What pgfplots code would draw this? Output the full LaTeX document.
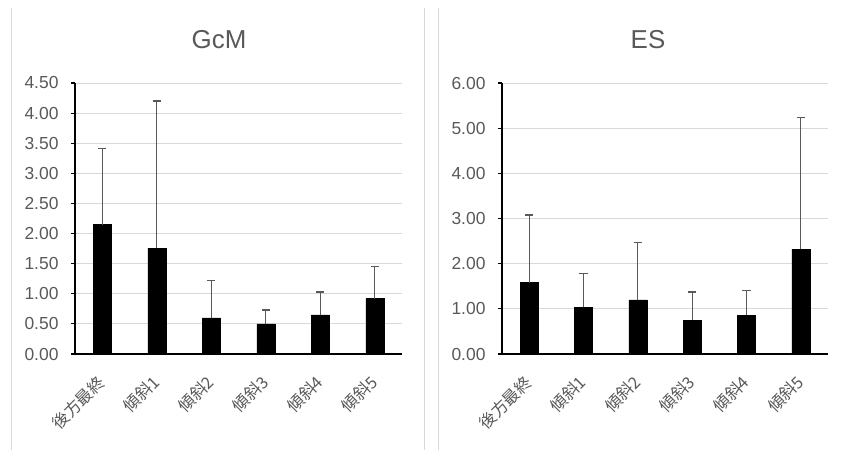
\documentclass[border=0pt]{standalone}
\usepackage{fontspec}
\setmainfont{Liberation Sans}
\newfontfamily\cjk{Noto Sans CJK JP}
\usepackage{pgfplots}
\pgfplotsset{compat=1.18}
\definecolor{txt}{HTML}{595959}
\definecolor{grd}{HTML}{D9D9D9}
\definecolor{errc}{HTML}{595959}
\pgfplotsset{mybar/.style={
  scale only axis, height=271bp,
  xmin=-0.5, xmax=5.5, ymin=0,
  axis x line*=bottom, axis y line*=left,
  xtick={0,...,5},
  xticklabels={後方最終,傾斜1,傾斜2,傾斜3,傾斜4,傾斜5},
  xtick style={draw=none},
  ymajorgrids, grid style={grd, line width=0.9bp},
  axis line style={black, line width=1.1bp},
  ytick style={black, line width=1.1bp}, tick align=outside, major tick length=4bp,
  yticklabel style={/pgf/number format/fixed, /pgf/number format/fixed zerofill, /pgf/number format/precision=2, /pgf/number format/assume math mode=true,
    font=\fontsize{17.5}{20}\selectfont, text=txt, xshift=-9bp},
  xticklabel style={font=\cjk\fontsize{16.5}{19}\selectfont, text=txt, xshift=2bp, yshift=-19bp, rotate=45, anchor=east},
},
myplot/.style={ybar, bar width=18bp, fill=black, draw=black,
    /pgfplots/error bars/y dir=plus, /pgfplots/error bars/y explicit,
    /pgfplots/error bars/error bar style={errc, line width=1.3bp},
    /pgfplots/error bars/error mark options={errc, rotate=90, mark size=4.2bp, line width=1.3bp}},
}
\begin{document}
\begin{tikzpicture}
\useasboundingbox (0,0) rectangle (842bp,450bp);
\draw[grd, line width=1bp] (11bp,0) -- (11bp,442bp);
\draw[grd, line width=1bp] (424bp,0) -- (424bp,442bp);
\draw[grd, line width=1bp] (438bp,0) -- (438bp,442bp);
\begin{axis}[mybar, width=327bp, at={(75bp,96bp)}, anchor=south west,
  ymax=4.5, ytick={0,0.5,...,4.5}]
\addplot[myplot] coordinates {
  (0,2.15) +- (0,1.26)
  (1,1.76) +- (0,2.44)
  (2,0.60) +- (0,0.62)
  (3,0.50) +- (0,0.23)
  (4,0.65) +- (0,0.38)
  (5,0.92) +- (0,0.53)
};
\end{axis}
\begin{axis}[mybar, width=326bp, at={(502bp,96bp)}, anchor=south west,
  ymax=6, ytick={0,1,...,6}]
\addplot[myplot] coordinates {
  (0,1.58) +- (0,1.50)
  (1,1.03) +- (0,0.76)
  (2,1.20) +- (0,1.27)
  (3,0.75) +- (0,0.62)
  (4,0.86) +- (0,0.54)
  (5,2.32) +- (0,2.91)
};
\end{axis}
\node[text=txt, font=\fontsize{26}{30}\selectfont] at (219bp,410bp) {GcM};
\node[text=txt, font=\fontsize{26}{30}\selectfont] at (648bp,410bp) {ES};
\end{tikzpicture}
\end{document}
